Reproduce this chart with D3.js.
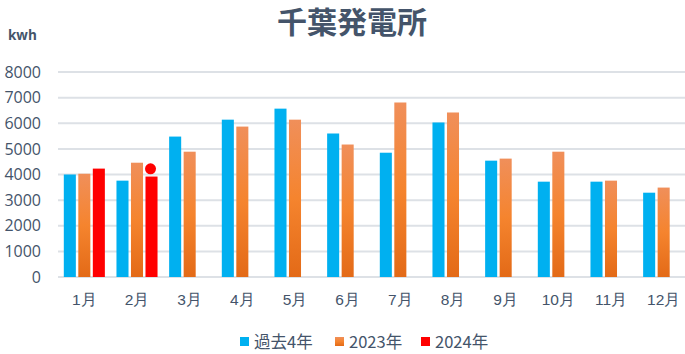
<!DOCTYPE html>
<html>
<head>
<meta charset="utf-8">
<script src="https://cdn.jsdelivr.net/npm/d3@7"></script>
<style>
  body { margin: 0; background: #fff; }
  svg { display: block; font-family: "Noto Sans CJK JP", "Open Sans", sans-serif; }
</style>
</head>
<body>
<div id="chart"></div>
<script>
// data
const months = ["1月", "2月", "3月", "4月", "5月", "6月", "7月", "8月", "9月", "10月", "11月", "12月"];
const seriesNames = ["過去4年", "2023年", "2024年"];
const past4 = [4000, 3760, 5480, 6140, 6570, 5600, 4850, 6030, 4540, 3720, 3720, 3290];
const y2023 = [4030, 4460, 4890, 5870, 6140, 5170, 6810, 6420, 4620, 4890, 3760, 3490];
const y2024 = [4230, 3920, null, null, null, null, null, null, null, null, null, null];
const marker2024 = [null, 4220, null, null, null, null, null, null, null, null, null, null];
const yTicks = [0, 1000, 2000, 3000, 4000, 5000, 6000, 7000, 8000];

const W = 685, H = 354;
const plot = { left: 58, right: 685, top: 72, bottom: 277 };
const textColor = "#44546A";

const svg = d3.select("#chart").append("svg")
    .attr("width", W)
    .attr("height", H);

// orange bar gradient (per bar, like Excel)
const grad = svg.append("defs").append("linearGradient")
    .attr("id", "orangeGrad")
    .attr("x1", 0).attr("y1", 0).attr("x2", 0).attr("y2", 1);
grad.append("stop").attr("offset", "0%").attr("stop-color", "#F08F5A");
grad.append("stop").attr("offset", "50%").attr("stop-color", "#F5842E");
grad.append("stop").attr("offset", "100%").attr("stop-color", "#E36A17");

const colors = ["#00B0F0", "url(#orangeGrad)", "#FF0000"];
const legendColors = ["#00B0F0", "#F07A35", "#FF0000"];

const x0 = d3.scaleBand()
    .domain(months)
    .range([plot.left, 690])
    .padding(0);

const x1 = d3.scaleBand()
    .domain(seriesNames)
    .range([0, x0.bandwidth()])
    .paddingInner(0.17)
    .paddingOuter(0.4);

const y = d3.scaleLinear()
    .domain([0, 8000])
    .range([plot.bottom, plot.top]);

// gridlines
svg.append("g")
    .selectAll("line")
    .data(yTicks)
    .join("line")
    .attr("x1", plot.left)
    .attr("x2", plot.right)
    .attr("y1", d => y(d))
    .attr("y2", d => y(d))
    .attr("stroke", "#DDE1E6")
    .attr("stroke-width", 2);

// y axis labels
const yAxis = svg.append("g")
    .attr("transform", "translate(" + 41 + ",0)")
    .call(d3.axisLeft(y).tickValues(yTicks).tickSize(0).tickPadding(0).tickFormat(d3.format("d")));
yAxis.select(".domain").remove();
yAxis.selectAll("text")
    .attr("fill", textColor)
    .attr("font-size", 16)
    .style("font-family", "'Open Sans', sans-serif");

// x axis labels
const xAxis = svg.append("g")
    .attr("transform", "translate(0," + (plot.bottom + 17) + ")")
    .call(d3.axisBottom(x0).tickSize(0).tickPadding(0));
xAxis.select(".domain").remove();
xAxis.selectAll("text")
    .attr("fill", textColor)
    .attr("font-size", 15.5);

// bars
const seriesData = [past4, y2023, y2024];
const groups = svg.append("g")
    .selectAll("g")
    .data(months)
    .join("g")
    .attr("transform", d => "translate(" + x0(d) + ",0)");

groups.selectAll("rect")
    .data((m, i) => seriesNames.map((s, j) => ({ s: s, j: j, v: seriesData[j][i] })).filter(d => d.v != null))
    .join("rect")
    .attr("x", d => x1(d.s))
    .attr("width", x1.bandwidth())
    .attr("y", d => y(d.v))
    .attr("height", d => y(0) - y(d.v))
    .attr("fill", d => colors[d.j]);

// red dot marker
svg.append("g")
    .selectAll("circle")
    .data(months.map((m, i) => ({ m: m, v: marker2024[i] })).filter(d => d.v != null))
    .join("circle")
    .attr("cx", d => x0(d.m) + x1("2024年") + x1.bandwidth() / 2 - 1)
    .attr("cy", d => y(d.v))
    .attr("r", 5.5)
    .attr("fill", "#FF0000");

// title
svg.append("text")
    .attr("x", 352)
    .attr("y", 33)
    .attr("text-anchor", "middle")
    .attr("font-size", 30)
    .attr("font-weight", "bold")
    .attr("fill", textColor)
    .text("千葉発電所");

// unit label
svg.append("text")
    .attr("x", 8)
    .attr("y", 40)
    .attr("font-size", 13.5)
    .attr("font-weight", "bold")
    .attr("fill", textColor)
    .style("font-family", "'Open Sans', sans-serif")
    .text("kwh");

// legend
const legendX = [240, 335, 421];
const legend = svg.append("g")
    .selectAll("g")
    .data(seriesNames)
    .join("g")
    .attr("transform", (d, i) => "translate(" + legendX[i] + "," + 342 + ")");
legend.append("rect")
    .attr("x", 0)
    .attr("y", -5)
    .attr("width", 9)
    .attr("height", 9)
    .attr("fill", (d, i) => i === 1 ? "url(#orangeGrad)" : legendColors[i]);
legend.append("text")
    .attr("x", 14)
    .attr("y", 0)
    .attr("dy", "0.35em")
    .attr("font-size", 16.5)
    .attr("fill", textColor)
    .text(d => d);
</script>
</body>
</html>
